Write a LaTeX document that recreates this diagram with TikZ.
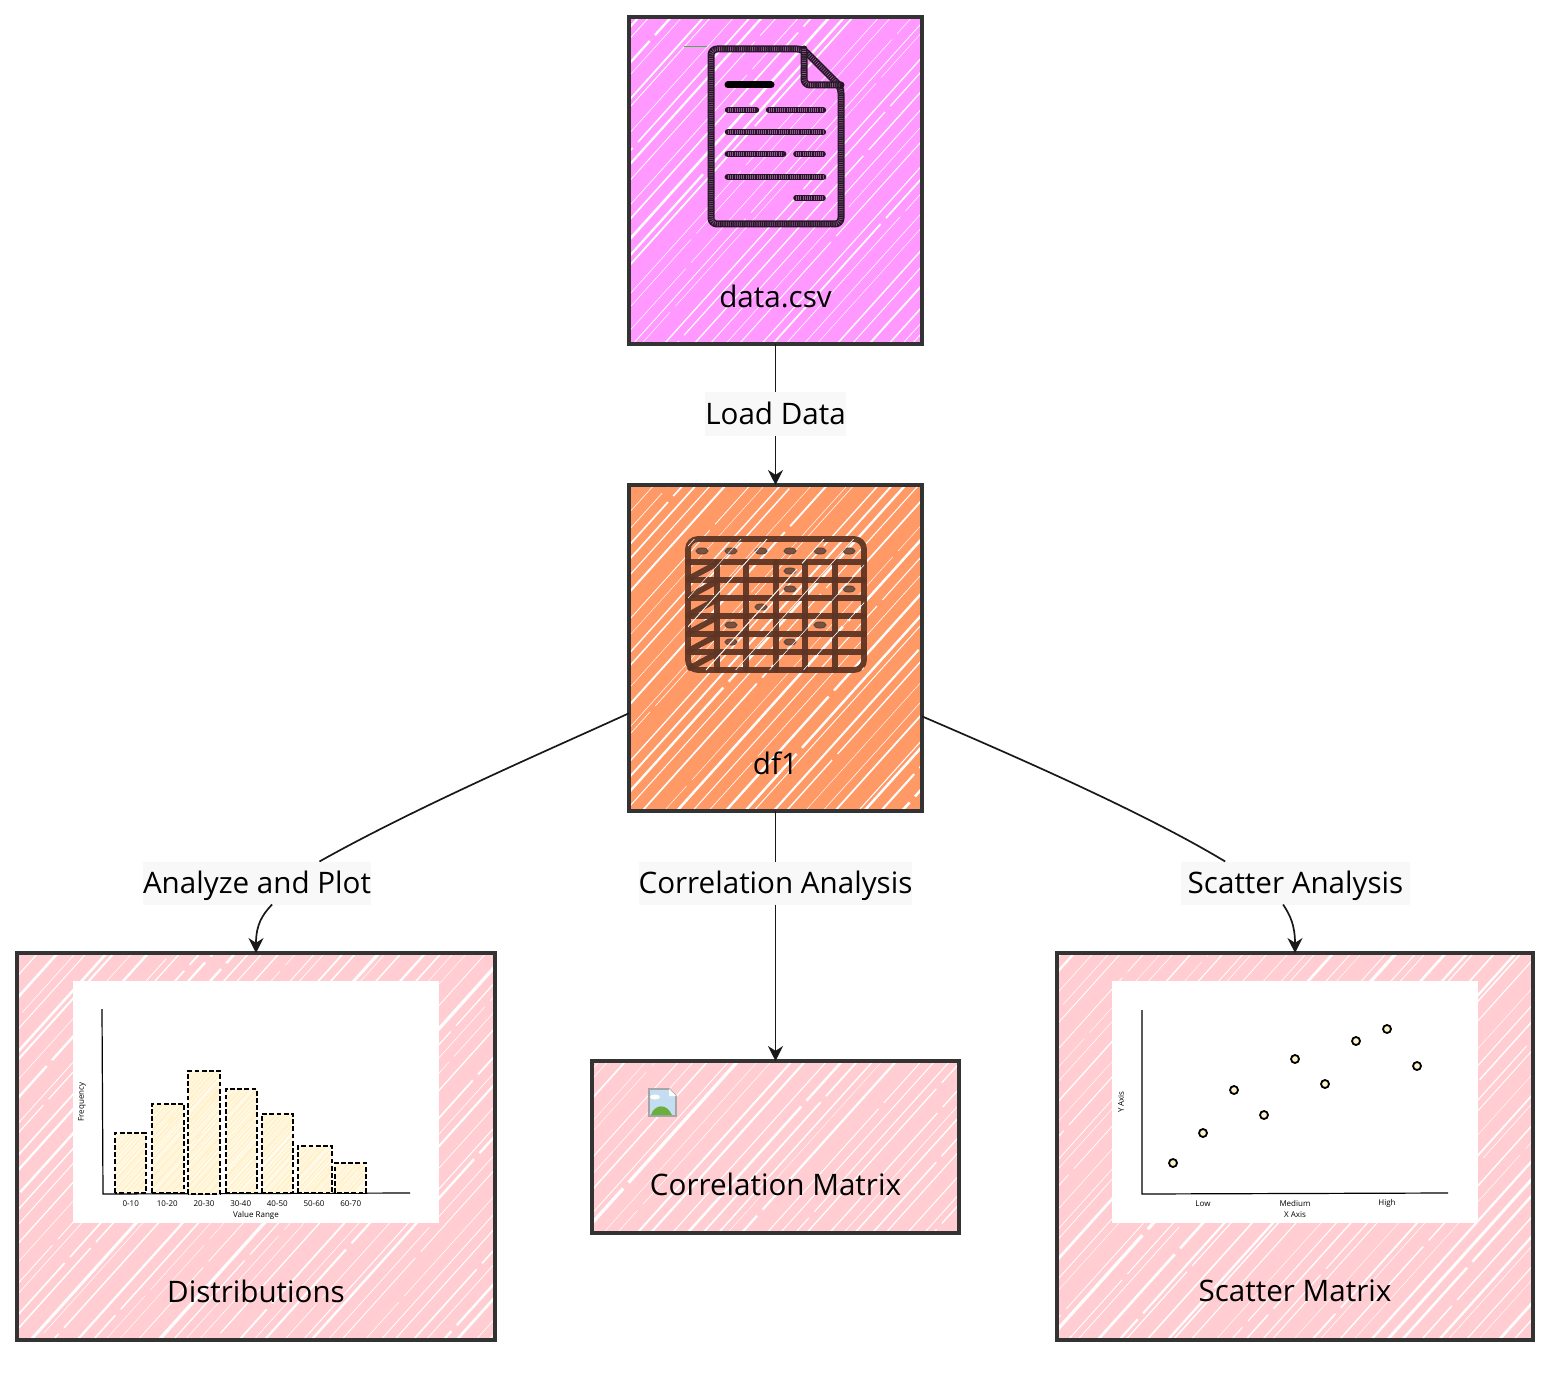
\documentclass[tikz,border=0pt]{standalone}
\usepackage{fontspec}
\usepackage{tikz}
\usetikzlibrary{arrows.meta}
\setmainfont{Open Sans}
\definecolor{inkline}{HTML}{333333}
\definecolor{boxmagenta}{HTML}{FF99FF}
\definecolor{boxorange}{HTML}{FF9966}
\definecolor{boxpink}{HTML}{FFCDD2}
\definecolor{barfill}{HTML}{FFF2CC}
\definecolor{labelbg}{HTML}{F8F8F8}
\definecolor{tablebrown}{HTML}{5E3524}
\definecolor{hillgreen}{HTML}{6AAE3E}
\definecolor{skyblue}{HTML}{C5DDF0}
\tikzset{
	boxfill/.style={draw=none, inner sep=0pt, outer sep=0pt},
	boxline/.style={draw=inkline, line width=2.3pt, line cap=round},
	edgeline/.style={draw=black!90, line width=0.85pt},
	edgetip/.style={edgeline, -{Stealth[length=7.5pt, width=7.5pt]}},
	edgelabel/.style={fill=labelbg, inner sep=0pt, outer sep=0pt, minimum height=21.5pt, text height=12pt, text depth=2pt, font=\fontsize{14.8}{18}\selectfont},
	boxtitle/.style={font=\fontsize{14.8}{18}\selectfont, inner sep=0pt},
	tinytext/.style={font=\fontsize{4}{5}\selectfont, inner sep=0pt},
	plotaxis/.style={draw=black, line width=0.6pt},
	docline/.style={draw=black!85!boxmagenta, line width=#1, line cap=round, line join=round,
		postaction={draw=boxmagenta, line cap=butt, line width=0.6*#1, opacity=0.5, dash pattern=on 0.3pt off 0.8pt}},
	docline/.default=3.5pt,
	docsolid/.style={draw=black, line width=3.5pt, line cap=round},
	gridline/.style={draw=tablebrown, line width=2.9pt, opacity=0.95, line cap=round},
	gridspot/.style={fill=tablebrown!75!boxorange, draw=black!70, line width=0.5pt},
	barbox/.style={draw=black, line width=0.6pt, dash pattern=on 2.4pt off 1.2pt},
	spot/.style={fill=barfill, draw=black, line width=0.9pt}
}
\newcommand{\hatchlines}[6]{
	\begin{scope}
		\clip (#1,#2) rectangle (#3,#4);
		\pgfmathsetmacro{\hatchh}{#4-#2}
		\pgfmathtruncatemacro{\hatchn}{(#3-#1+\hatchh*0.9)/#5}
		\foreach \k in {0,...,\hatchn}{
			\pgfmathsetmacro{\hatchx}{#1-\hatchh*0.9+\k*#5+rnd*#5*0.7}
			\pgfmathsetmacro{\hatchw}{0.2+rnd*rnd*#6}
			\pgfmathsetmacro{\hatchd}{rnd*150}
			\draw[white, line width=\hatchw pt, dash pattern=on 150pt off 4pt, dash phase=\hatchd pt]
				(\hatchx,#4) -- ++({\hatchh*0.9},{-\hatchh});
		}
	\end{scope}
}
\newcommand{\sketchbox}[6]{
	\node[boxfill, fill=#6, minimum width={(#4-#2)*0.5pt}, minimum height={(#5-#3)*0.5pt}] (#1) at ({(#2+#4)/2},{(#3+#5)/2}) {};
	\draw[#6, line width=1.5pt, dash pattern=on 2pt off 7pt] (#1.south west) rectangle (#1.north east);
	\hatchlines{#2}{#3}{#4}{#5}{16}{1.7}
	\draw[boxline] (#1.south west) rectangle (#1.north east);
}
\newcommand{\plotbar}[5]{
	\node[boxfill, fill=barfill, minimum width={(#3-#2)*0.5pt}, minimum height={(#5-#4)*0.5pt}] (#1) at ({(#2+#3)/2},{(#4+#5)/2}) {};
	\hatchlines{#2}{#4}{#3}{#5}{4}{0.5}
	\draw[barbox] (#1.south west) rectangle (#1.north east);
}
\begin{document}
\begin{tikzpicture}[x=0.5pt, y=-0.5pt]
	\useasboundingbox (0,0) rectangle (1568,1374);
	\pgfmathsetseed{4217}
	\sketchbox{data}{629}{17}{922}{344}{boxmagenta}
	\sketchbox{dfone}{629}{485}{922}{811}{boxorange}
	\sketchbox{dist}{17}{953}{495}{1340}{boxpink}
	\sketchbox{corr}{592}{1061}{959}{1233}{boxpink}
	\sketchbox{scat}{1057}{953}{1533}{1340}{boxpink}

	\draw[green!40!gray, line width=0.4pt] (684,46) -- (707,46);
	\draw[docline, rounded corners=3pt] (711,49) -- (803,49) -- (841,87) -- (841,224) -- (711,224) -- cycle;
	\draw[docline, rounded corners=3pt] (804,49) -- (804,85) -- (841,85);
	\draw[docsolid] (728,85) -- (771,85);
	\foreach \xa/\xb/\yy/\lw in {728/756/110/3.2pt, 769/823/110/3.2pt, 728/823/132/3.2pt, 728/783/154/3.4pt, 796/823/154/2.8pt, 728/823/177/3.4pt, 796/823/198/2.8pt}{
		\draw[docline=\lw] (\xa,\yy) -- (\xb,\yy);
	}
	\node[boxtitle] (datatitle) at (775.5,296) {data.csv};

	\foreach \yy in {562,580,598,616,634,652}{
		\draw[gridline] (688,\yy) -- (864,\yy);
	}
	\foreach \xx in {717,746,776,805,835}{
		\draw[gridline] (\xx,562) -- (\xx,670);
	}
	\foreach \yy in {562,580,598,616,634,652}{
		\draw[gridline] (690,\yy+16) -- (714,\yy+3);
	}
	\draw[gridline, rounded corners=5pt] (688,539) rectangle (864,670);
	\foreach \xx/\yy in {702/551,731/551,761/551,790/551,820/551,849/551,790/571,790/589,849/589,761/607,731/625,820/625,731/642,790/642}{
		\draw[gridspot] (\xx,\yy) ellipse [x radius=6, y radius=3];
	}
	\hatchlines{688}{539}{864}{670}{38}{0.35}
	\node[boxtitle] (dfonetitle) at (775.5,763) {df1};

	\fill[white] (73,981) rectangle (439,1223);
	\draw[plotaxis] (102,1009) -- (103,1194) -- (410,1193);
	\plotbar{barone}{115}{146}{1133}{1193}
	\plotbar{bartwo}{152}{184}{1104}{1193}
	\plotbar{barthree}{188}{220}{1071}{1194}
	\plotbar{barfour}{226}{257}{1089}{1193}
	\plotbar{barfive}{262}{293}{1114}{1193}
	\plotbar{barsix}{298}{332}{1146}{1193}
	\plotbar{barseven}{335}{366}{1163}{1193}
	\foreach \xx/\txt in {130.7/0-10,167.3/10-20,204/20-30,240.7/30-40,277.3/40-50,314/50-60,350.7/60-70}{
		\node[tinytext] at (\xx,1203.5) {\txt};
	}
	\node[tinytext] (histx) at (256,1215) {Value Range};
	\node[tinytext, rotate=90] (histy) at (82,1102) {Frequency};
	\node[boxtitle] (disttitle) at (256,1291) {Distributions};

	\draw[gray!70, fill=skyblue, line width=0.8pt] (649,1089) -- (669,1089) -- (676,1096) -- (676,1116) -- (649,1116) -- cycle;
	\fill[white] (655,1097) ellipse [x radius=5, y radius=2.5];
	\fill[hillgreen] (651,1115) .. controls (654,1105) and (666,1102) .. (672,1115) -- cycle;
	\fill[white] (669,1089) -- (669,1096) -- (676,1096) -- cycle;
	\node[boxtitle] (corrtitle) at (775.5,1184) {Correlation Matrix};

	\fill[white] (1112,981) rectangle (1478,1223);
	\draw[plotaxis] (1142,1010) -- (1142,1194) -- (1448,1193);
	\foreach \xx/\yy in {1173/1163,1203/1133,1234/1090,1264/1115,1295/1059,1325/1084,1356/1041,1387/1029,1417/1066}{
		\draw[spot] (\xx,\yy) circle [radius=4];
	}
	\foreach \xx/\txt in {1203/Low,1295/Medium,1387/High}{
		\node[tinytext] at (\xx,1203.5) {\txt};
	}
	\node[tinytext] (scatx) at (1295,1215) {X Axis};
	\node[tinytext, rotate=90] (scaty) at (1121,1102) {Y Axis};
	\node[boxtitle] (scattitle) at (1295,1291) {Scatter Matrix};

	\node[edgelabel, minimum width=69.5pt] (load) at (775.5,414) {Load Data};
	\node[edgelabel, minimum width=112.5pt] (plot) at (257,883) {Analyze and Plot};
	\node[edgelabel, minimum width=136.5pt] (corrlab) at (775.5,883) {Correlation Analysis};
	\node[edgelabel, minimum width=114.5pt] (scatlab) at (1295.5,883) {Scatter Analysis};

	\draw[edgeline] (data.south) -- (load.north);
	\draw[edgetip] (load.south) -- (dfone.north);
	\draw[edgeline] (dfone.204.6) .. controls (560,745) and (420,805) .. (plot.19.8);
	\draw[edgetip] (plot.-55) .. controls (262,915) and (256,925) .. (dist.north);
	\draw[edgeline] (dfone.south) -- (corrlab.north);
	\draw[edgetip] (corrlab.south) -- (corr.north);
	\draw[edgeline] (dfone.335.4) .. controls (1000,750) and (1140,810) .. (scatlab.163);
	\draw[edgetip] (scatlab.240.8) .. controls (1290,915) and (1295,925) .. (scat.north);
\end{tikzpicture}
\end{document}
